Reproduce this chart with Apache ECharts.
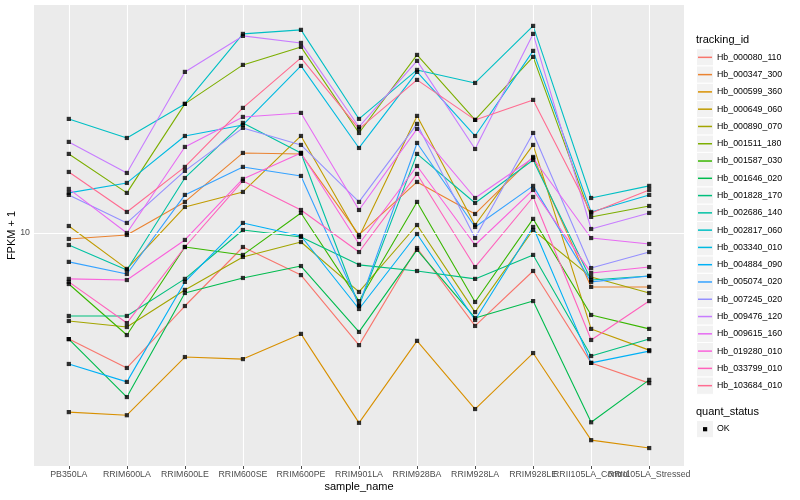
<!DOCTYPE html>
<html><head><meta charset="utf-8">
<script src="https://cdn.jsdelivr.net/npm/echarts@6/dist/echarts.min.js"></script>
<style>html,body{margin:0;padding:0;background:#fff}#c{width:800px;height:500px}</style>
</head><body><div id="c"></div>
<script>
const categories = ['PB350LA','RRIM600LA','RRIM600LE','RRIM600SE','RRIM600PE','RRIM901LA','RRIM928BA','RRIM928LA','RRIM928LE','RRII105LA_Control','RRII105LA_Stressed'];
const yTicks = [10];
const seriesNames = ['Hb_000080_110','Hb_000347_300','Hb_000599_360','Hb_000649_060','Hb_000890_070','Hb_001511_180','Hb_001587_030','Hb_001646_020','Hb_001828_170','Hb_002686_140','Hb_002817_060','Hb_003340_010','Hb_004884_090','Hb_005074_020','Hb_007245_020','Hb_009476_120','Hb_009615_160','Hb_019280_010','Hb_033799_010','Hb_103684_010'];
const seriesColors = ['#F8766D','#EA8331','#D89000','#C09B00','#A3A500','#7CAE00','#39B600','#00BB4E','#00BF7D','#00C1A3','#00BFC4','#00BAE0','#00B0F6','#35A2FF','#9590FF','#C77CFF','#E76BF3','#FA62DB','#FF62BC','#FF6C91'];

const Hb_000080_110 = [4.43, 3.55, 5.71, 8.98, 7.24, 4.23, 8.91, 4.90, 7.47, 3.69, 3.16];
const Hb_000347_300 = [9.55, 9.85, 12.69, 18.48, 18.34, 9.85, 14.79, 11.57, 17.92, 6.61, 6.61];
const Hb_000599_360 = [2.53, 2.47, 3.86, 3.80, 4.61, 2.33, 4.37, 2.59, 3.98, 2.04, 1.92];
const Hb_000649_060 = [10.55, 7.59, 12.21, 13.70, 21.05, 9.70, 24.55, 10.63, 19.65, 4.79, 4.07];
const Hb_000890_070 = [5.09, 4.86, 6.46, 8.32, 9.33, 6.36, 10.63, 5.45, 10.23, 7.13, 6.31];
const Hb_001511_180 = [18.34, 13.60, 26.92, 36.31, 41.69, 21.54, 39.20, 23.81, 38.61, 11.31, 12.30];
const Hb_001587_030 = [6.76, 4.57, 8.98, 8.45, 11.66, 5.93, 12.69, 5.89, 11.14, 5.33, 4.79];
const Hb_001646_020 = [4.43, 2.84, 6.31, 7.08, 7.76, 4.68, 8.78, 5.21, 5.93, 2.34, 3.24];
const Hb_001828_170 = [5.29, 5.29, 7.03, 10.23, 9.70, 7.83, 7.47, 7.03, 8.45, 3.89, 4.43];
const Hb_002686_140 = [9.12, 7.53, 15.25, 23.27, 18.48, 5.71, 18.34, 12.59, 17.51, 6.97, 7.19];
const Hb_002817_060 = [23.99, 20.73, 26.92, 46.06, 47.51, 23.99, 34.94, 31.62, 48.98, 13.08, 14.35];
const Hb_003340_010 = [13.60, 14.68, 21.05, 22.91, 36.03, 19.20, 34.41, 21.05, 40.43, 11.75, 13.39];
const Hb_004884_090 = [3.66, 3.19, 6.87, 10.80, 9.77, 5.58, 9.92, 5.13, 10.47, 3.69, 4.04];
const Hb_005074_020 = [8.01, 7.30, 13.39, 16.60, 15.49, 5.75, 19.95, 10.47, 14.35, 6.87, 7.19];
const Hb_007245_020 = [13.39, 10.80, 16.10, 22.39, 19.65, 12.69, 23.09, 9.62, 21.54, 7.64, 8.64];
const Hb_009476_120 = [20.11, 15.85, 34.41, 45.36, 42.98, 22.56, 37.44, 19.05, 46.06, 10.31, 11.66];
const Hb_009615_160 = [14.02, 10.00, 19.35, 24.36, 25.12, 11.93, 22.22, 13.08, 17.78, 9.62, 9.19];
const Hb_019280_010 = [7.03, 6.97, 9.48, 15.14, 18.48, 9.19, 16.72, 9.12, 13.91, 7.36, 7.70];
const Hb_033799_010 = [6.87, 5.01, 8.98, 14.91, 11.93, 8.64, 15.73, 7.70, 13.18, 4.40, 5.93];
const Hb_103684_010 = [15.97, 11.75, 16.60, 26.11, 38.31, 22.22, 32.36, 23.81, 27.76, 11.66, 13.91];

const seriesValues = [Hb_000080_110, Hb_000347_300, Hb_000599_360, Hb_000649_060, Hb_000890_070, Hb_001511_180, Hb_001587_030, Hb_001646_020, Hb_001828_170, Hb_002686_140, Hb_002817_060, Hb_003340_010, Hb_004884_090, Hb_005074_020, Hb_007245_020, Hb_009476_120, Hb_009615_160, Hb_019280_010, Hb_033799_010, Hb_103684_010];

const FONT = 'Liberation Sans, Arial, Helvetica, sans-serif';
const chart = echarts.init(document.getElementById('c'), null, {renderer: 'canvas'});

const idx = categories.map((c, i) => i);
// labels split over two label rows on the same baseline so that the library does not drop overlapping ones
const idxA = idx.filter(i => i % 2 === 0);
const idxB = idx.filter(i => i % 2 === 1);

const series = [];
series.push({
  type: 'line', name: '_grid', data: [[0, 10]], showSymbol: false, silent: true, z: 1,
  lineStyle: {opacity: 0},
  markLine: {
    silent: true, symbol: 'none', label: {show: false}, animation: false,
    lineStyle: {color: '#ffffff', width: 1.1, type: 'solid'},
    emphasis: {disabled: true},
    data: idx.map(i => ({xAxis: i})).concat(yTicks.map(v => ({yAxis: v})))
  }
});
seriesNames.forEach((n, i) => {
  series.push({
    type: 'line', name: n, z: 3, silent: true,
    data: seriesValues[i].map((v, j) => [j, v]),
    showSymbol: false,
    lineStyle: {color: seriesColors[i], width: 1.1},
    itemStyle: {color: seriesColors[i]}
  });
});
const allPts = [];
seriesValues.forEach(arr => arr.forEach((v, j) => allPts.push([j, v])));
series.push({
  type: 'scatter', name: 'OK', z: 5, silent: true,
  data: allPts, symbol: 'rect', symbolSize: 4.2,
  itemStyle: {color: '#000000'}
});

const L_TOP = 48.7, L_STEP = 17.28;
const graphics = [];
graphics.push({type: 'text', left: 696, top: 34, style: {text: 'tracking_id', fontSize: 11, fontFamily: FONT, fill: '#000'}});
seriesNames.forEach((n, i) => {
  graphics.push({type: 'rect', shape: {x: 696.5, y: L_TOP + i * L_STEP, width: 17, height: L_STEP},
    style: {fill: '#F2F2F2', stroke: '#ffffff', lineWidth: 1}, z: 0});
});
graphics.push({type: 'text', left: 696, top: 406, style: {text: 'quant_status', fontSize: 11, fontFamily: FONT, fill: '#000'}});
graphics.push({type: 'rect', shape: {x: 696.5, y: 420.5, width: 17, height: L_STEP}, style: {fill: '#F2F2F2', stroke: '#fff', lineWidth: 1}});
graphics.push({type: 'rect', shape: {x: 703, y: 427.1, width: 4.2, height: 4.2}, style: {fill: '#000'}});
graphics.push({type: 'text', left: 717, top: 424.5, style: {text: 'OK', fontSize: 8.8, fontFamily: FONT, fill: '#000'}});

const labelStyle = {hideOverlap: false, showMinLabel: true, showMaxLabel: true, formatter: v => categories[Math.round(v)] || '', fontSize: 8.8, color: '#4D4D4D', margin: 4, fontFamily: FONT};

chart.setOption({
  animation: false,
  backgroundColor: '#ffffff',
  textStyle: {fontFamily: FONT},
  grid: {left: 34, right: 116, top: 5, bottom: 34, show: true, backgroundColor: '#EBEBEB', borderWidth: 0, containLabel: false, outerBoundsMode: 'none'},
  xAxis: [{
    type: 'value', min: -0.6, max: 10.6, position: 'bottom',
    name: 'sample_name', nameLocation: 'middle', nameGap: 15, nameMoveOverlap: false,
    nameTextStyle: {fontSize: 11, color: '#000', fontFamily: FONT},
    axisLine: {show: false},
    splitLine: {show: false},
    axisTick: {show: true, length: 3, lineStyle: {color: '#4D4D4D', width: 1}, customValues: idx},
    axisLabel: Object.assign({customValues: idxA}, labelStyle)
  }, {
    type: 'value', min: -0.6, max: 10.6, position: 'bottom', offset: 0,
    axisLine: {show: false},
    splitLine: {show: false},
    axisTick: {show: false},
    axisLabel: Object.assign({customValues: idxB}, labelStyle)
  }],
  yAxis: {
    type: 'log', logBase: 10, min: 1.673, max: 57.5,
    name: 'FPKM + 1', nameLocation: 'middle', nameGap: 17, nameMoveOverlap: false,
    nameTextStyle: {fontSize: 11, color: '#000', fontFamily: FONT},
    axisLine: {show: false},
    splitLine: {show: false},
    minorSplitLine: {show: false},
    axisTick: {show: true, length: 3, lineStyle: {color: '#4D4D4D', width: 1}, customValues: yTicks},
    axisLabel: {customValues: yTicks, hideOverlap: false, showMinLabel: true, showMaxLabel: true, formatter: v => String(v), fontSize: 8.8, color: '#4D4D4D', margin: 4, fontFamily: FONT}
  },
  legend: {
    data: seriesNames, orient: 'vertical', left: 698, top: L_TOP, itemGap: 0,
    itemWidth: 14, itemHeight: 1.5, icon: 'rect', selectedMode: false,
    padding: 0,
    textStyle: {fontSize: 8.8, color: '#000', fontFamily: FONT, lineHeight: L_STEP, height: L_STEP, verticalAlign: 'middle'}
  },
  graphic: graphics,
  series: series
});
</script></body></html>
